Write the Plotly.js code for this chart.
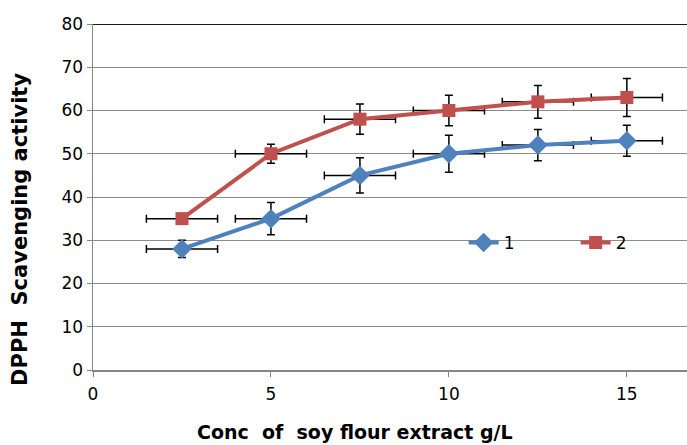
<!DOCTYPE html>
<html><head><meta charset="utf-8">
<script src="https://cdn.plot.ly/plotly-3.0.1.min.js"></script>
<style>body{margin:0;padding:0;background:#fff}#chart{width:687px;height:445px}</style>
</head><body><div id="chart"></div>
<script>
const conc = [2.5, 5, 7.5, 10, 12.5, 15];
const series1 = [28, 35, 45, 50, 52, 53];
const series2 = [35, 50, 58, 60, 62, 63];
const err1 = [2, 3.7, 4.1, 4.3, 3.6, 3.6];
const err2 = [1, 2.2, 3.5, 3.5, 3.8, 4.4];
const xErr = [1, 1, 1, 1, 1, 1];
const names = ['1', '2'];
const ticksX = [0, 5, 10, 15];
const ticksY = [0, 10, 20, 30, 40, 50, 60, 70, 80];
const xTitle = 'Conc\u00a0\u00a0of\u00a0\u00a0soy flour extract g/L';
const yTitle = 'DPPH\u00a0\u00a0Scavenging activity';

const eb = a => ({type:'data', array:a, visible:true, color:'#000', thickness:1.5, width:4});

const traces = [
  {x:conc, y:series1, name:names[0], mode:'lines+markers', type:'scatter',
   line:{color:'#4F81BD', width:4}, marker:{symbol:'diamond', size:15, color:'#4F81BD'},
   error_y:eb(err1), error_x:eb(xErr)},
  {x:conc, y:series2, name:names[1], mode:'lines+markers', type:'scatter',
   line:{color:'#C0504D', width:4}, marker:{symbol:'square', size:13, color:'#C0504D'},
   error_y:eb(err2), error_x:eb(xErr)}
];

const layout = {
  width:687, height:445,
  margin:{l:93, r:0, t:24, b:75, autoexpand:false},
  paper_bgcolor:'#fff', plot_bgcolor:'#fff',
  font:{family:'"DejaVu Sans", sans-serif', size:17, color:'#000'},
  showlegend:true,
  legend:{orientation:'h', x:0.624, y:0.367, xanchor:'left', yanchor:'middle',
          bgcolor:'rgba(0,0,0,0)', font:{size:17}, entrywidth:67, entrywidthmode:'pixels'},
  xaxis:{range:[0, 16.69], tickvals:ticksX, ticktext:ticksX.map(String),
         showgrid:false, zeroline:false, showline:true, linecolor:'#868686', linewidth:1.5,
         ticks:'outside', ticklen:5, tickcolor:'#868686', tickfont:{size:17},
         ticklabelstandoff:3},
  yaxis:{range:[0, 80], tickvals:ticksY, ticktext:ticksY.map(String),
         showgrid:true, gridcolor:'#8c8c8c', gridwidth:1, zeroline:false,
         showline:true, linecolor:'#868686', linewidth:1.5,
         ticks:'outside', ticklen:5, tickcolor:'#868686', tickfont:{size:17}},
  annotations:[
    {text:'<b>' + xTitle + '</b>', xref:'paper', yref:'paper', x:0.441, y:-0.179,
     xanchor:'center', yanchor:'middle', showarrow:false, font:{size:19}},
    {text:'<b>' + yTitle + '</b>', xref:'paper', yref:'paper', x:-0.123, y:0.4075,
     xanchor:'center', yanchor:'middle', textangle:-90, showarrow:false, font:{size:21}}
  ],
  shapes:[{type:'line', xref:'paper', yref:'y', x0:0, x1:1, y0:80, y1:80,
           line:{color:'#1a1a1a', width:2}}]
};
Plotly.newPlot('chart', traces, layout, {displayModeBar:false, staticPlot:true});
</script></body></html>
